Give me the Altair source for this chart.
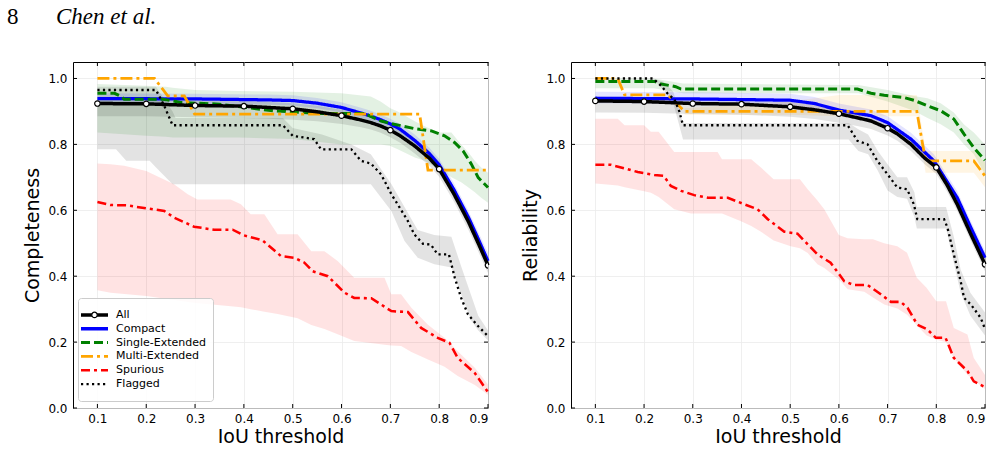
import altair as alt
import pandas as pd

# ---------------- shared definitions ----------------
SERIES = ["All", "Compact", "Single-Extended", "Multi-Extended", "Spurious", "Flagged"]
COLORS = ["black", "blue", "green", "orange", "red", "black"]
DASHES = [[1, 0], [1, 0], [9, 4], [12, 4, 3, 4], [9, 4, 3, 4], [2.2, 3.3]]
WIDTHS = [3.5, 2.3, 2.3, 2.3, 2.3, 2.3]

X_TICKS = [0.1, 0.2, 0.3, 0.4, 0.5, 0.6, 0.7, 0.8, 0.9]
Y_TICKS = [0.0, 0.2, 0.4, 0.6, 0.8, 1.0]
MARKER_X = [0.1, 0.2, 0.3, 0.4, 0.5, 0.6, 0.7, 0.8, 0.9]

HEADER_PAGE = "8"
HEADER_AUTHORS = "Chen et al."
X_TITLE = "IoU threshold"
Y_TITLES = ["Completeness", "Reliability"]

# ---------------- Completeness (left panel) ----------------
C_ALL_X = [0.1, 0.2, 0.3, 0.4, 0.5, 0.55, 0.6, 0.64, 0.66, 0.68, 0.7, 0.72, 0.75, 0.78, 0.8, 0.83, 0.86, 0.88, 0.9]
C_ALL_Y = [0.924, 0.923, 0.918, 0.916, 0.908, 0.899, 0.887, 0.874, 0.866, 0.856, 0.843, 0.826, 0.795, 0.758, 0.725, 0.65, 0.565, 0.50, 0.433]
C_ALL_HI = [0.94, 0.94, 0.935, 0.932, 0.925, 0.917, 0.905, 0.893, 0.886, 0.876, 0.863, 0.847, 0.816, 0.78, 0.748, 0.672, 0.59, 0.525, 0.455]
C_ALL_LO = [0.885, 0.885, 0.882, 0.88, 0.875, 0.87, 0.862, 0.852, 0.845, 0.835, 0.822, 0.805, 0.772, 0.735, 0.702, 0.627, 0.54, 0.475, 0.41]

C_CMP_X = [0.1, 0.3, 0.45, 0.5, 0.55, 0.6, 0.64, 0.66, 0.68, 0.7, 0.72, 0.75, 0.78, 0.8, 0.83, 0.86, 0.88, 0.9]
C_CMP_Y = [0.939, 0.938, 0.935, 0.933, 0.925, 0.912, 0.895, 0.886, 0.875, 0.862, 0.846, 0.812, 0.772, 0.738, 0.663, 0.578, 0.513, 0.446]
C_CMP_HI = [0.955, 0.954, 0.951, 0.949, 0.941, 0.928, 0.911, 0.902, 0.891, 0.878, 0.862, 0.83, 0.79, 0.756, 0.683, 0.598, 0.535, 0.47]
C_CMP_LO = [0.924, 0.923, 0.92, 0.918, 0.91, 0.897, 0.88, 0.871, 0.86, 0.847, 0.83, 0.795, 0.755, 0.72, 0.643, 0.558, 0.492, 0.424]

C_SE_X = [0.1, 0.135, 0.148, 0.155, 0.234, 0.254, 0.27, 0.35, 0.405, 0.46, 0.55, 0.647, 0.681, 0.708, 0.749, 0.784, 0.811, 0.832, 0.849, 0.866, 0.88, 0.9]
C_SE_Y = [0.955, 0.955, 0.946, 0.937, 0.937, 0.932, 0.927, 0.922, 0.912, 0.902, 0.894, 0.894, 0.871, 0.861, 0.848, 0.841, 0.826, 0.805, 0.78, 0.74, 0.699, 0.669]
C_SE_BX = [0.1, 0.2, 0.24, 0.254, 0.3, 0.39, 0.5, 0.6, 0.66, 0.68, 0.7, 0.715, 0.75, 0.77, 0.8, 0.825, 0.845, 0.86, 0.873, 0.886, 0.9]
C_SE_HI = [0.983, 0.978, 0.975, 0.972, 0.965, 0.962, 0.96, 0.955, 0.945, 0.93, 0.91, 0.9, 0.87, 0.855, 0.836, 0.836, 0.80, 0.775, 0.75, 0.73, 0.714]
C_SE_LO = [0.836, 0.826, 0.823, 0.821, 0.821, 0.821, 0.816, 0.8, 0.8, 0.8, 0.795, 0.785, 0.76, 0.75, 0.724, 0.70, 0.685, 0.669, 0.655, 0.638, 0.623]

C_ME_X = [0.1, 0.217, 0.244, 0.278, 0.299, 0.76, 0.777, 0.9]
C_ME_Y = [1.0, 1.0, 0.947, 0.947, 0.892, 0.892, 0.722, 0.722]

C_SP_X = [0.1, 0.127, 0.16, 0.2, 0.237, 0.257, 0.298, 0.339, 0.377, 0.4, 0.438, 0.476, 0.503, 0.524, 0.541, 0.572, 0.606, 0.626, 0.661, 0.702, 0.736, 0.763, 0.797, 0.821, 0.838, 0.873, 0.9]
C_SP_Y = [0.625, 0.616, 0.615, 0.606, 0.598, 0.578, 0.55, 0.541, 0.541, 0.524, 0.509, 0.461, 0.456, 0.441, 0.415, 0.40, 0.35, 0.334, 0.333, 0.294, 0.291, 0.243, 0.213, 0.198, 0.152, 0.106, 0.048]
C_SP_BX = [0.1, 0.127, 0.155, 0.2, 0.257, 0.285, 0.305, 0.34, 0.373, 0.394, 0.414, 0.442, 0.469, 0.51, 0.538, 0.565, 0.592, 0.626, 0.688, 0.702, 0.722, 0.743, 0.777, 0.811, 0.838, 0.873, 0.9]
C_SP_HI = [0.742, 0.74, 0.735, 0.719, 0.679, 0.649, 0.633, 0.633, 0.633, 0.618, 0.588, 0.588, 0.527, 0.527, 0.476, 0.476, 0.446, 0.395, 0.395, 0.345, 0.345, 0.304, 0.253, 0.213, 0.172, 0.122, 0.071]
C_SP_LO = [0.357, 0.35, 0.346, 0.34, 0.328, 0.322, 0.318, 0.313, 0.309, 0.306, 0.3, 0.292, 0.285, 0.272, 0.252, 0.24, 0.224, 0.203, 0.192, 0.19, 0.188, 0.17, 0.147, 0.125, 0.097, 0.07, 0.04]

C_FL_X = [0.1, 0.22, 0.236, 0.254, 0.48, 0.5, 0.544, 0.558, 0.62, 0.64, 0.66, 0.681, 0.702, 0.715, 0.736, 0.749, 0.767, 0.783, 0.797, 0.82, 0.832, 0.845, 0.859, 0.88, 0.9]
C_FL_Y = [0.965, 0.965, 0.92, 0.858, 0.858, 0.826, 0.816, 0.785, 0.785, 0.75, 0.742, 0.709, 0.649, 0.618, 0.567, 0.527, 0.498, 0.496, 0.466, 0.466, 0.395, 0.334, 0.284, 0.248, 0.218]
C_FL_BX = [0.1, 0.138, 0.159, 0.207, 0.22, 0.254, 0.26, 0.48, 0.5, 0.56, 0.62, 0.66, 0.702, 0.729, 0.756, 0.79, 0.825, 0.845, 0.866, 0.88, 0.9]
C_FL_HI = [0.975, 0.975, 0.975, 0.975, 0.975, 0.9, 0.88, 0.88, 0.85, 0.83, 0.80, 0.77, 0.68, 0.61, 0.54, 0.525, 0.52, 0.43, 0.34, 0.28, 0.235]
C_FL_LO = [0.785, 0.785, 0.75, 0.75, 0.73, 0.679, 0.679, 0.679, 0.679, 0.679, 0.679, 0.679, 0.598, 0.507, 0.456, 0.436, 0.426, 0.345, 0.264, 0.235, 0.205]

# ---------------- Reliability (right panel) ----------------
R_ALL_X = [0.1, 0.2, 0.3, 0.4, 0.5, 0.55, 0.6, 0.64, 0.666, 0.7, 0.72, 0.748, 0.775, 0.8, 0.822, 0.843, 0.871, 0.9]
R_ALL_Y = [0.932, 0.930, 0.924, 0.922, 0.914, 0.905, 0.893, 0.88, 0.871, 0.849, 0.832, 0.80, 0.76, 0.73, 0.677, 0.618, 0.527, 0.436]
R_ALL_HI = [0.945, 0.943, 0.937, 0.935, 0.928, 0.919, 0.907, 0.895, 0.886, 0.865, 0.848, 0.817, 0.778, 0.749, 0.697, 0.638, 0.548, 0.458]
R_ALL_LO = [0.897, 0.896, 0.892, 0.89, 0.884, 0.877, 0.866, 0.855, 0.847, 0.827, 0.811, 0.78, 0.741, 0.71, 0.657, 0.598, 0.506, 0.415]

R_CMP_X = [0.1, 0.3, 0.5, 0.55, 0.6, 0.666, 0.7, 0.748, 0.795, 0.843, 0.871, 0.9]
R_CMP_Y = [0.94, 0.938, 0.934, 0.924, 0.904, 0.887, 0.866, 0.816, 0.75, 0.638, 0.547, 0.456]
R_CMP_HI = [0.96, 0.958, 0.954, 0.944, 0.924, 0.906, 0.885, 0.835, 0.77, 0.658, 0.567, 0.476]
R_CMP_LO = [0.925, 0.923, 0.919, 0.909, 0.889, 0.872, 0.851, 0.8, 0.733, 0.62, 0.528, 0.436]

R_SE_X = [0.1, 0.221, 0.235, 0.255, 0.265, 0.276, 0.638, 0.666, 0.693, 0.734, 0.754, 0.782, 0.809, 0.836, 0.857, 0.877, 0.9]
R_SE_Y = [0.991, 0.991, 0.983, 0.978, 0.975, 0.968, 0.968, 0.955, 0.949, 0.942, 0.934, 0.917, 0.902, 0.877, 0.831, 0.79, 0.752]
R_SE_BX = [0.1, 0.22, 0.28, 0.64, 0.7, 0.754, 0.782, 0.809, 0.836, 0.857, 0.877, 0.9]
R_SE_HI = [1.0, 1.0, 0.985, 0.98, 0.965, 0.947, 0.94, 0.925, 0.897, 0.86, 0.836, 0.80]
R_SE_LO = [0.97, 0.97, 0.955, 0.955, 0.93, 0.902, 0.88, 0.861, 0.836, 0.80, 0.77, 0.709]

R_ME_X = [0.1, 0.146, 0.16, 0.249, 0.283, 0.76, 0.778, 0.877, 0.9]
R_ME_Y = [1.0, 1.0, 0.95, 0.95, 0.9, 0.9, 0.75, 0.75, 0.704]
R_ME_BX = [0.283, 0.5, 0.6, 0.76, 0.778, 0.877, 0.9]
R_ME_HI = [0.91, 0.93, 0.95, 0.95, 0.78, 0.78, 0.745]
R_ME_LO = [0.89, 0.89, 0.885, 0.885, 0.714, 0.714, 0.67]

R_SP_X = [0.1, 0.132, 0.166, 0.187, 0.221, 0.24, 0.255, 0.276, 0.303, 0.331, 0.372, 0.406, 0.433, 0.454, 0.488, 0.515, 0.556, 0.583, 0.611, 0.631, 0.659, 0.686, 0.707, 0.727, 0.741, 0.761, 0.782, 0.799, 0.819, 0.836, 0.864, 0.877, 0.9]
R_SP_Y = [0.738, 0.738, 0.725, 0.716, 0.707, 0.705, 0.674, 0.659, 0.646, 0.638, 0.638, 0.618, 0.603, 0.573, 0.535, 0.529, 0.466, 0.441, 0.385, 0.373, 0.373, 0.345, 0.322, 0.322, 0.304, 0.253, 0.238, 0.213, 0.213, 0.152, 0.112, 0.081, 0.063]
R_SP_BX = [0.1, 0.146, 0.16, 0.2, 0.214, 0.23, 0.262, 0.296, 0.351, 0.36, 0.399, 0.42, 0.44, 0.466, 0.501, 0.52, 0.536, 0.556, 0.57, 0.6, 0.618, 0.652, 0.67, 0.693, 0.72, 0.74, 0.76, 0.78, 0.8, 0.82, 0.836, 0.864, 0.877, 0.9]
R_SP_HI = [0.878, 0.878, 0.858, 0.858, 0.838, 0.838, 0.777, 0.777, 0.777, 0.755, 0.755, 0.755, 0.73, 0.694, 0.694, 0.694, 0.664, 0.63, 0.603, 0.525, 0.515, 0.512, 0.512, 0.50, 0.491, 0.471, 0.395, 0.365, 0.324, 0.324, 0.243, 0.223, 0.152, 0.10]
R_SP_LO = [0.681, 0.675, 0.67, 0.658, 0.653, 0.64, 0.603, 0.59, 0.59, 0.59, 0.567, 0.552, 0.535, 0.508, 0.491, 0.485, 0.47, 0.436, 0.425, 0.39, 0.36, 0.353, 0.335, 0.314, 0.302, 0.283, 0.25, 0.22, 0.207, 0.2, 0.152, 0.101, 0.085, 0.058]

R_FL_X = [0.1, 0.218, 0.235, 0.249, 0.262, 0.272, 0.28, 0.618, 0.638, 0.659, 0.679, 0.7, 0.72, 0.74, 0.754, 0.761, 0.816, 0.823, 0.836, 0.85, 0.857, 0.871, 0.891, 0.9]
R_FL_Y = [1.0, 1.0, 0.978, 0.953, 0.937, 0.902, 0.858, 0.858, 0.811, 0.80, 0.75, 0.709, 0.669, 0.664, 0.618, 0.573, 0.573, 0.547, 0.466, 0.385, 0.334, 0.314, 0.274, 0.24]
R_FL_BX = [0.1, 0.218, 0.24, 0.26, 0.28, 0.62, 0.64, 0.66, 0.68, 0.7, 0.72, 0.74, 0.755, 0.76, 0.82, 0.836, 0.85, 0.87, 0.9]
R_FL_HI = [1.0, 1.0, 0.99, 0.96, 0.865, 0.865, 0.846, 0.83, 0.78, 0.74, 0.70, 0.70, 0.655, 0.61, 0.61, 0.52, 0.42, 0.35, 0.29]
R_FL_LO = [1.0, 1.0, 0.965, 0.925, 0.815, 0.815, 0.78, 0.77, 0.72, 0.66, 0.64, 0.635, 0.58, 0.545, 0.545, 0.44, 0.35, 0.28, 0.22]


# ---------------- table builders ----------------
def line_table(items):
    rows = []
    for name, xs, ys in items:
        rows += [{"series": name, "x": a, "y": b} for a, b in zip(xs, ys)]
    return pd.DataFrame(rows)


def band_table(items):
    rows = []
    for name, xs, lo, hi in items:
        rows += [{"series": name, "x": a, "lo": l, "hi": h} for a, l, h in zip(xs, lo, hi)]
    return pd.DataFrame(rows)


def marker_table(xs, ys):
    return pd.DataFrame([{"x": a, "y": b} for a, b in zip(xs, ys) if a in MARKER_X])


LEFT_LINES = line_table([
    ("Compact", C_CMP_X, C_CMP_Y),
    ("Single-Extended", C_SE_X, C_SE_Y),
    ("Multi-Extended", C_ME_X, C_ME_Y),
    ("Spurious", C_SP_X, C_SP_Y),
    ("Flagged", C_FL_X, C_FL_Y),
    ("All", C_ALL_X, C_ALL_Y),
])
LEFT_BANDS = band_table([
    ("Flagged", C_FL_BX, C_FL_LO, C_FL_HI),
    ("Spurious", C_SP_BX, C_SP_LO, C_SP_HI),
    ("Single-Extended", C_SE_BX, C_SE_LO, C_SE_HI),
    ("Compact", C_CMP_X, C_CMP_LO, C_CMP_HI),
    ("All", C_ALL_X, C_ALL_LO, C_ALL_HI),
])
RIGHT_LINES = line_table([
    ("Compact", R_CMP_X, R_CMP_Y),
    ("Single-Extended", R_SE_X, R_SE_Y),
    ("Multi-Extended", R_ME_X, R_ME_Y),
    ("Spurious", R_SP_X, R_SP_Y),
    ("Flagged", R_FL_X, R_FL_Y),
    ("All", R_ALL_X, R_ALL_Y),
])
RIGHT_BANDS = band_table([
    ("Flagged", R_FL_BX, R_FL_LO, R_FL_HI),
    ("Spurious", R_SP_BX, R_SP_LO, R_SP_HI),
    ("Single-Extended", R_SE_BX, R_SE_LO, R_SE_HI),
    ("Multi-Extended", R_ME_BX, R_ME_LO, R_ME_HI),
    ("Compact", R_CMP_X, R_CMP_LO, R_CMP_HI),
    ("All", R_ALL_X, R_ALL_LO, R_ALL_HI),
])

FONT = "DejaVu Sans"
H = 346

CSCALE = alt.Scale(domain=SERIES, range=COLORS)
DSCALE = alt.Scale(domain=SERIES, range=DASHES)
WSCALE = alt.Scale(domain=SERIES, range=WIDTHS)


def legend_block():
    """Legend box drawn inside the Completeness panel (entries placed by a point scale)."""
    ly = alt.Y("series:N", scale=alt.Scale(domain=SERIES, range=[246, 329], padding=0), axis=None)
    entries = pd.DataFrame({"series": SERIES})
    box = alt.Chart(pd.DataFrame({"b": [1]})).mark_rect(
        fill="white", fillOpacity=0.85, stroke="#cccccc", strokeWidth=1, cornerRadius=3
    ).encode(x=alt.value(5.5), x2=alt.value(140.5), y=alt.value(236.5), y2=alt.value(339.5))
    syms = alt.Chart(entries).mark_rule(strokeCap="butt").encode(
        x=alt.value(8), x2=alt.value(35), y=ly,
        color=alt.Color("series:N", scale=CSCALE, legend=None),
        strokeDash=alt.StrokeDash("series:N", scale=DSCALE, legend=None),
        strokeWidth=alt.StrokeWidth("series:N", scale=WSCALE, legend=None),
    )
    dot = alt.Chart(pd.DataFrame({"series": [SERIES[0]]})).mark_point(
        shape="circle", filled=True, fill="white", stroke="black", strokeWidth=1.2, size=30, opacity=1
    ).encode(x=alt.value(21.5), y=ly)
    labels = alt.Chart(entries).mark_text(
        align="left", baseline="middle", font=FONT, fontSize=11, color="black"
    ).encode(x=alt.value(43), y=ly, text="series:N")
    return alt.layer(box, syms, dot, labels)


def panel(lines_df, bands_df, markers_df, ytitle, W, with_legend, header=False):
    xscale = alt.Scale(domain=[0.05, 0.9], nice=False, zero=False)
    yscale = alt.Scale(domain=[0.0, 1.05], nice=False, zero=False)
    xaxis = alt.Axis(values=X_TICKS, format=".1f", title=X_TITLE)
    yaxis = alt.Axis(values=Y_TICKS, format=".1f", title=ytitle)

    def X(f):
        return alt.X(f, type="quantitative", scale=xscale, axis=xaxis)

    def Y(f):
        return alt.Y(f, type="quantitative", scale=yscale, axis=yaxis)

    bands = alt.Chart(bands_df).mark_area(opacity=0.11).encode(
        x=X("x"), y=Y("lo"), y2="hi",
        fill=alt.Fill("series:N", scale=CSCALE, legend=None),
        detail="series:N",
    )
    lines = alt.Chart(lines_df).mark_line(strokeCap="butt").encode(
        x=X("x"), y=Y("y"),
        color=alt.Color("series:N", scale=CSCALE, legend=None),
        strokeDash=alt.StrokeDash("series:N", scale=DSCALE, legend=None),
        strokeWidth=alt.StrokeWidth("series:N", scale=WSCALE, legend=None),
    )
    points = alt.Chart(markers_df).mark_point(shape="circle", filled=True, fill="white", stroke="black",
                                              strokeWidth=1.2, size=30, opacity=1, clip=True).encode(x=X("x"), y=Y("y"))
    tx = pd.DataFrame({"t": X_TICKS})
    ty = pd.DataFrame({"t": Y_TICKS})
    tk_top = alt.Chart(tx).mark_rule(color="black", strokeWidth=1).encode(x=X("t"), y=alt.value(0), y2=alt.value(4))
    tk_bot = alt.Chart(tx).mark_rule(color="black", strokeWidth=1).encode(x=X("t"), y=alt.value(H - 4), y2=alt.value(H))
    tk_left = alt.Chart(ty).mark_rule(color="black", strokeWidth=1).encode(y=Y("t"), x=alt.value(0), x2=alt.value(4))
    tk_right = alt.Chart(ty).mark_rule(color="black", strokeWidth=1).encode(y=Y("t"), x=alt.value(W - 4), x2=alt.value(W))
    layers = [bands, lines, points, tk_top, tk_bot, tk_left, tk_right]
    if header:
        hp = alt.Chart(pd.DataFrame({"t": [HEADER_PAGE]})).mark_text(
            font="Liberation Serif", fontSize=23, align="left", baseline="alphabetic", color="black"
        ).encode(text="t:N", x=alt.value(-66), y=alt.value(-38))
        ha = alt.Chart(pd.DataFrame({"t": [HEADER_AUTHORS]})).mark_text(
            font="Liberation Serif", fontSize=23, fontStyle="italic", align="left", baseline="alphabetic", color="black"
        ).encode(text="t:N", x=alt.value(-17), y=alt.value(-38))
        layers += [hp, ha]
    main = alt.layer(*layers)
    if with_legend:
        out = alt.layer(main, legend_block()).resolve_scale(y="independent")
    else:
        out = main
    return out.properties(width=W, height=H)


left = panel(LEFT_LINES, LEFT_BANDS, marker_table(C_ALL_X, C_ALL_Y), Y_TITLES[0], 415, True, header=True)
right = panel(RIGHT_LINES, RIGHT_BANDS, marker_table(R_ALL_X, R_ALL_Y), Y_TITLES[1], 414, False)

chart = alt.hconcat(left, right, spacing=83, bounds="flush").configure_view(
    stroke="black", strokeWidth=1
).configure_axis(
    labelFont=FONT, labelFontSize=12, labelColor="black",
    titleFont=FONT, titleFontSize=19, titleFontWeight="normal", titleColor="black",
    domain=False, ticks=False, grid=True, gridColor="#ebebeb", gridWidth=0.8, labelPadding=6,
).configure_axisX(titlePadding=3, labelPadding=5).configure_axisY(titlePadding=5).properties(
    padding={"left": 6, "top": 5, "right": 2, "bottom": 2}, background="white"
)

chart.save("out.html", embed_options={"renderer": "svg", "actions": False})
